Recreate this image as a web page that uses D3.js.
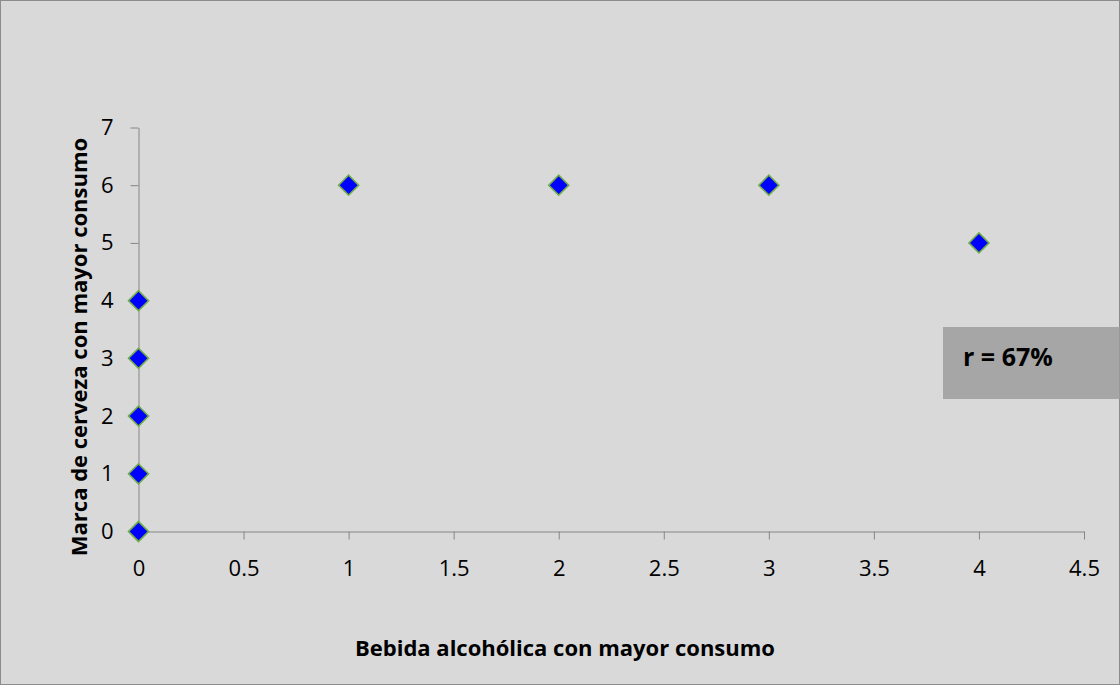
<!DOCTYPE html>
<html>
<head>
<meta charset="utf-8">
<script src="https://cdn.jsdelivr.net/npm/d3@7"></script>
<style>
  html, body { margin: 0; padding: 0; background: #ffffff; }
  svg { display: block; }
  text { font-family: "Open Sans", Lato, sans-serif; }
</style>
</head>
<body>
<svg id="chart" width="1120" height="685"></svg>
<script>
// Data
const xValues = [0, 0, 0, 0, 0, 1, 2, 3, 4];
const yValues = [0, 1, 2, 3, 4, 6, 6, 6, 5];
const xTicks = [0, 0.5, 1, 1.5, 2, 2.5, 3, 3.5, 4, 4.5];
const yTicks = [0, 1, 2, 3, 4, 5, 6, 7];
const xTitle = "Bebida alcohólica con mayor consumo";
const yTitle = "Marca de cerveza con mayor consumo";
const annotation = "r = 67%";

const W = 1120, H = 685;
const FONT = "'Open Sans', Lato, sans-serif";
const svg = d3.select("#chart");

svg.append("rect")
  .attr("x", 0.5).attr("y", 0.5)
  .attr("width", W - 1).attr("height", H - 1)
  .attr("fill", "#d9d9d9")
  .attr("stroke", "#8c8c8c").attr("stroke-width", 1);

const x = d3.scaleLinear().domain([0, 4.5]).range([138.5, 1084]);
const y = d3.scaleLinear().domain([0, 7]).range([531.5, 127.5]);

const axisColor = "#868686";

const xAxis = svg.append("g")
  .attr("transform", `translate(0,${y(0)})`)
  .call(d3.axisBottom(x).tickValues(xTicks).tickSize(8).tickSizeOuter(0).tickPadding(20)
        .tickFormat(d => String(d)));
const yAxis = svg.append("g")
  .attr("transform", `translate(${x(0)},0)`)
  .call(d3.axisLeft(y).tickValues(yTicks).tickSize(8).tickSizeOuter(0).tickPadding(17)
        .tickFormat(d => String(d)));

[xAxis, yAxis].forEach(g => {
  g.attr("font-family", null).attr("font-size", null);
  g.select(".domain").attr("stroke", axisColor).attr("stroke-width", 1);
  g.selectAll(".tick line").attr("stroke", axisColor).attr("stroke-width", 1);
  g.selectAll(".tick text")
    .attr("fill", "#000")
    .style("font-family", FONT)
    .style("font-size", "22px");
});
xAxis.selectAll(".tick text").attr("dy", null).attr("y", 44);

// Points (diamonds)
const pts = xValues.map((v, i) => ({ x: v, y: yValues[i] }));
svg.append("g").selectAll("path")
  .data(pts).join("path")
  .attr("d", d3.symbol().type(d3.symbolSquare).size(200)())
  .attr("transform", d => `translate(${x(d.x)},${y(d.y)}) rotate(45)`)
  .attr("fill", "#0000ff")
  .attr("stroke", "#70ad47")
  .attr("stroke-width", 1.6);

// Axis titles
svg.append("text")
  .attr("x", 565).attr("y", 656)
  .attr("text-anchor", "middle")
  .style("font-family", FONT)
  .style("font-weight", "bold").style("font-size", "22px")
  .attr("fill", "#000")
  .text(xTitle);

svg.append("text")
  .attr("transform", "translate(87,347) rotate(-90)")
  .attr("text-anchor", "middle")
  .style("font-family", FONT)
  .style("font-weight", "bold").style("font-size", "22px")
  .attr("fill", "#000")
  .text(yTitle);

// Annotation box
svg.append("rect")
  .attr("x", 943).attr("y", 327)
  .attr("width", 176.5).attr("height", 72)
  .attr("fill", "#a6a6a6");
svg.append("text")
  .attr("x", 963).attr("y", 366)
  .style("font-family", FONT)
  .style("font-weight", "bold").style("font-size", "25px")
  .attr("fill", "#000")
  .text(annotation);
</script>
</body>
</html>
